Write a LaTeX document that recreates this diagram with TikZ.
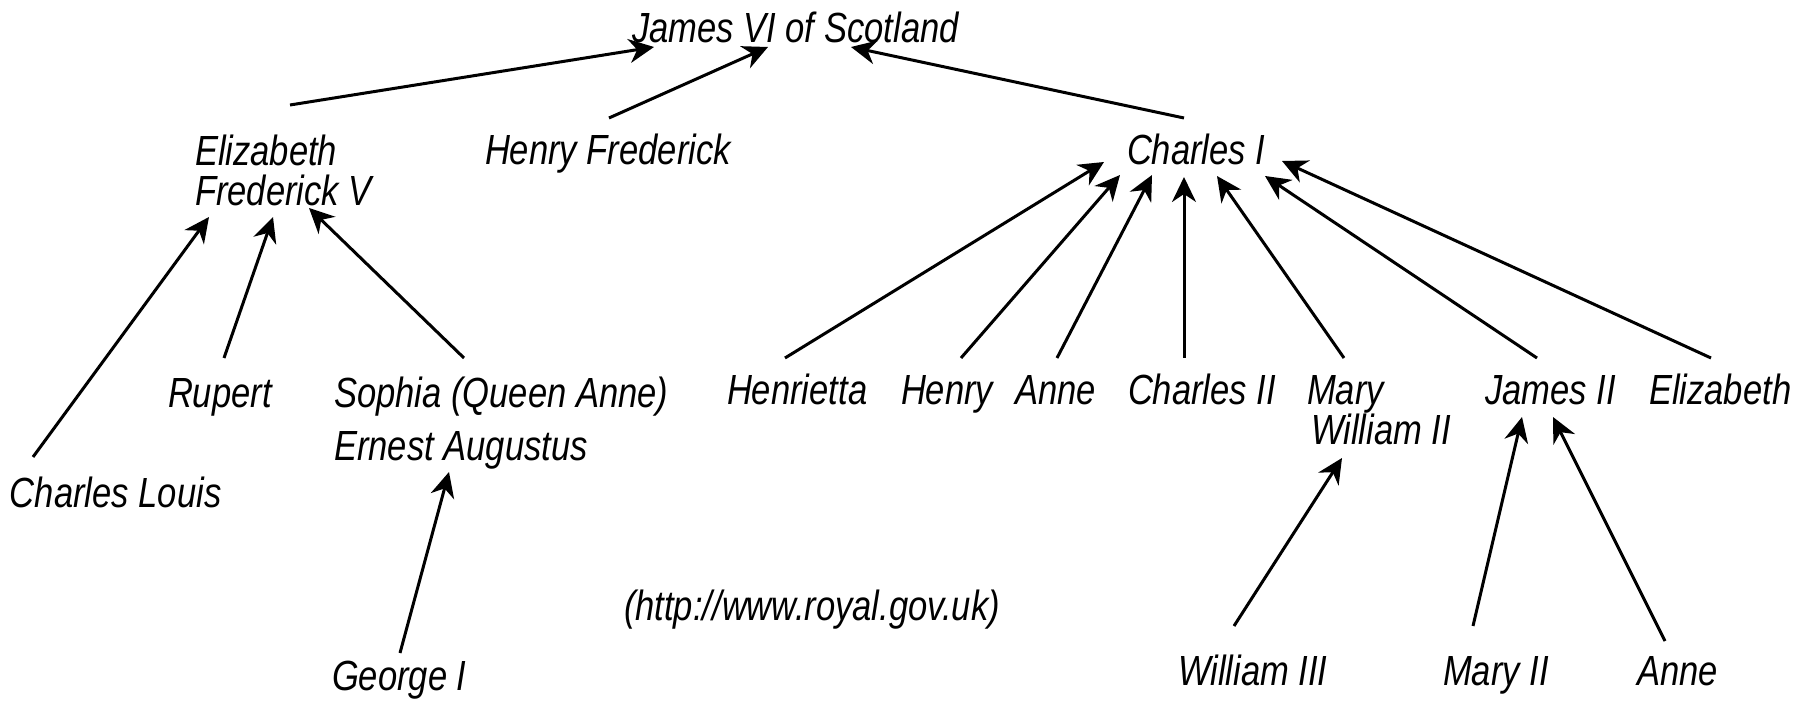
\documentclass[tikz,border=0pt]{standalone}
\usepackage{fontspec}
\setmainfont{Liberation Sans}[FakeStretch=0.82]
\usetikzlibrary{arrows.meta}
\begin{document}
\begin{tikzpicture}[x=0.02cm, y=-0.02cm,
  person/.style={anchor=base west, inner sep=0pt, outer sep=0pt,
    font=\fontsize{24}{29}\selectfont\itshape},
  link/.style={line width=0.06cm,
    -{Stealth[length=0.5cm, width=0.48cm, inset=0.16cm]}}]
\useasboundingbox (0,0) rectangle (1796,709);

% people
\node[person] (james) at (632,43) {James VI of Scotland};
\node[person] (eliz) at (195,166) {Elizabeth};
\node[person] (fred) at (195,206) {Frederick V};
\node[person] (henfred) at (485,165) {Henry Frederick};
\node[person] (charlesI) at (1127,165) {Charles I};
\node[person] (charleslouis) at (10,508) {Charles Louis};
\node[person] (rupert) at (168,408) {Rupert};
\node[person] (sophia) at (334,408) {Sophia (Queen Anne)};
\node[person] (ernest) at (334,460) {Ernest Augustus};
\node[person] (george) at (332,690) {George I};
\node[person] (henrietta) at (727,405) {Henrietta};
\node[person] (henry) at (901,405) {Henry};
\node[person] (anneA) at (1015,405) {Anne};
\node[person] (charlesII) at (1128,405) {Charles II};
\node[person] (mary) at (1307,405) {Mary};
\node[person] (williamII) at (1311,445) {William II};
\node[person] (jamesII) at (1485,405) {James II};
\node[person] (elizB) at (1649,405) {Elizabeth};
\node[person] (williamIII) at (1178,685) {William III};
\node[person] (maryII) at (1443,685) {Mary II};
\node[person] (anneB) at (1637,685) {Anne};
\node[person] (source) at (624,620) {(http://www.royal.gov.uk)};

% children of James VI
\draw[link] ([shift={(95,-61)}]eliz.base west) -- ([shift={(22,4)}]james.base west);
\draw[link] ([shift={(124,-47)}]henfred.base west) -- ([shift={(136,4)}]james.base west);
\draw[link] ([shift={(57,-47)}]charlesI.base west) -- ([shift={(219,4)}]james.base west);

% children of Elizabeth and Frederick V
\draw[link] ([shift={(23,-51)}]charleslouis.base west) -- ([shift={(14,11)}]fred.base west);
\draw[link] ([shift={(56,-50)}]rupert.base west) -- ([shift={(78,11)}]fred.base west);
\draw[link] ([shift={(130,-50)}]sophia.base west) -- ([shift={(114,2)}]fred.base west);
\draw[link] ([shift={(68,-37)}]george.base west) -- ([shift={(115,12)}]ernest.base west);

% children of Charles I
\draw[link] ([shift={(58,-47)}]henrietta.base west) -- ([shift={(-23,-3)}]charlesI.base west);
\draw[link] ([shift={(60,-47)}]henry.base west) -- ([shift={(-7,10)}]charlesI.base west);
\draw[link] ([shift={(42,-47)}]anneA.base west) -- ([shift={(25,10)}]charlesI.base west);
\draw[link] ([shift={(56,-47)}]charlesII.base west) -- ([shift={(57,12)}]charlesI.base west);
\draw[link] ([shift={(37,-47)}]mary.base west) -- ([shift={(90,11)}]charlesI.base west);
\draw[link] ([shift={(52,-47)}]jamesII.base west) -- ([shift={(138,11)}]charlesI.base west);
\draw[link] ([shift={(62,-47)}]elizB.base west) -- ([shift={(155,-4)}]charlesI.base west);

% grandchildren
\draw[link] ([shift={(56,-59)}]williamIII.base west) -- ([shift={(31,13)}]williamII.base west);
\draw[link] ([shift={(30,-59)}]maryII.base west) -- ([shift={(37,12)}]jamesII.base west);
\draw[link] ([shift={(28,-44)}]anneB.base west) -- ([shift={(68,12)}]jamesII.base west);
\end{tikzpicture}
\end{document}
